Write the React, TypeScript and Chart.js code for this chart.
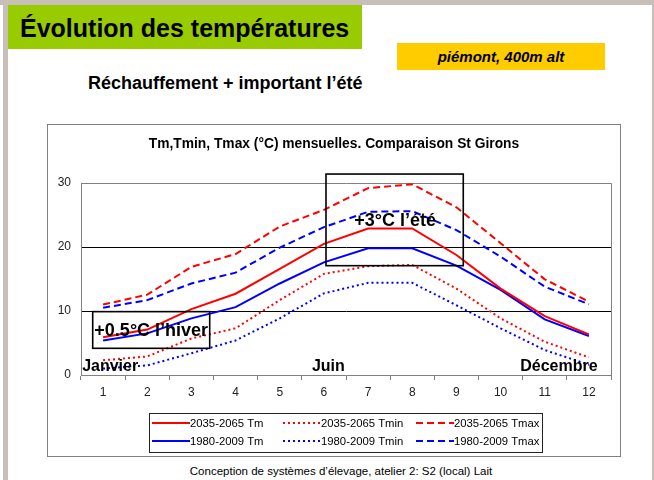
import React, { useEffect, useRef } from "react";
import { Chart, registerables } from "chart.js";

Chart.register(...registerables);

const months = ["1", "2", "3", "4", "5", "6", "7", "8", "9", "10", "11", "12"];
const yTicks = [0, 10, 20, 30];

const tm2035 = [5.9, 7.1, 10.3, 12.7, 16.6, 20.5, 22.9, 22.9, 18.75, 13.5, 9.2, 6.35];
const tmin2035 = [2.3, 2.9, 5.7, 7.3, 11.7, 15.8, 17.0, 17.2, 13.5, 8.85, 5.2, 2.75];
const tmax2035 = [11.0, 12.55, 16.9, 18.9, 23.2, 25.8, 29.2, 29.8, 26.2, 20.6, 14.95, 11.45];
const tm1980 = [5.4, 6.5, 8.85, 10.6, 14.3, 17.6, 19.8, 19.8, 17.1, 13.3, 8.7, 6.1];
const tmin1980 = [1.0, 1.5, 3.4, 5.4, 8.85, 12.75, 14.4, 14.4, 10.9, 7.3, 3.9, 1.6];
const tmax1980 = [10.5, 11.7, 14.3, 16.0, 19.9, 23.1, 25.5, 25.6, 22.65, 18.5, 13.8, 11.05];

const seriesLabels = [
  "2035-2065 Tm",
  "2035-2065 Tmin",
  "2035-2065 Tmax",
  "1980-2009 Tm",
  "1980-2009 Tmin",
  "1980-2009 Tmax",
];

const FONT = "'Liberation Sans', Arial, Helvetica, sans-serif";
const RED = "#ff0000";
const BLUE = "#0000ff";
const DOT = [2, 3];
const DASH = [7, 4];

export default function App() {
  const ref = useRef<HTMLCanvasElement>(null);

  useEffect(() => {
    const canvas = ref.current;
    if (!canvas) return;

    const framePlugin = {
      id: "framePlugin",
      beforeDraw(c: any) {
        const g = c.ctx;
        g.save();
        g.fillStyle = "#ffffff";
        g.fillRect(0, 0, c.width, c.height);
        g.restore();
      },
      beforeDatasetsDraw(c: any) {
        const g = c.ctx;
        const a = c.chartArea;
        g.save();
        g.strokeStyle = "#808080";
        g.lineWidth = 1;
        g.beginPath();
        g.moveTo(Math.round(a.left) + 0.5, Math.round(a.top) + 0.5);
        g.lineTo(Math.round(a.right) + 0.5, Math.round(a.top) + 0.5);
        g.lineTo(Math.round(a.right) + 0.5, Math.round(a.bottom) + 0.5);
        g.stroke();
        g.restore();
      },
      afterDraw(c: any) {
        const g = c.ctx;
        const W = c.width;
        const H = c.height;
        g.save();
        g.strokeStyle = "#808080";
        g.lineWidth = 1;
        g.strokeRect(0.5, 0.5, W - 1, H - 1);
        g.fillStyle = "#000";
        g.font = `bold 13.8px ${FONT}`;
        g.textAlign = "center";
        g.textBaseline = "middle";
        g.fillText("Tm,Tmin, Tmax (°C) mensuelles. Comparaison St Girons", 287, 20);

        const lx = 102.5, ly = 289.5, lw = 393, lh = 39;
        g.strokeStyle = "#222";
        g.strokeRect(lx, ly, lw, lh);
        const colX = [105, 236, 369];
        const rowY = [299, 317];
        const sampleLen = 38;
        c.data.datasets.forEach((ds: any, i: number) => {
          const col = i % 3;
          const row = Math.floor(i / 3);
          const x0 = colX[col];
          const y0 = rowY[row];
          g.save();
          g.strokeStyle = ds.borderColor;
          g.lineWidth = ds.borderWidth;
          g.setLineDash(ds.borderDash || []);
          g.beginPath();
          g.moveTo(x0, y0);
          g.lineTo(x0 + sampleLen, y0);
          g.stroke();
          g.restore();
          g.fillStyle = "#000";
          g.font = `11.3px ${FONT}`;
          g.textAlign = "left";
          g.textBaseline = "middle";
          g.fillText(ds.label, x0 + sampleLen, y0 + 0.5);
        });
        g.restore();
      },
      afterDatasetsDraw(c: any) {
        const g = c.ctx;
        const xs = c.scales.x;
        const ys = c.scales.y;
        const px = (v: number) => xs.getPixelForValue(v);
        const py = (v: number) => ys.getPixelForValue(v);
        g.save();
        g.strokeStyle = "#000";
        g.lineWidth = 1.6;
        const box = (x1: number, x2: number, y1: number, y2: number) => {
          const l = px(x1), r = px(x2), t = py(y2), b = py(y1);
          g.strokeRect(l, t, r - l, b - t);
        };
        box(-0.235, 2.414, 4.17, 9.9);
        box(5.047, 8.155, 17.08, 31.4);
        g.fillStyle = "#000";
        g.textAlign = "center";
        g.textBaseline = "middle";
        g.font = `bold 18px ${FONT}`;
        g.fillText("+0.5°C l’hiver", px(1.09), py(6.8));
        g.fillText("+3°C l’été", px(6.61), py(24.0));
        g.font = `bold 16px ${FONT}`;
        g.fillText("Janvier", px(0.16), py(1.25));
        g.fillText("Juin", px(5.1), py(1.25));
        g.fillText("Décembre", px(10.32), py(1.25));
        g.restore();
      },
    };

    const mk = (label: string, data: number[], color: string, dash: number[]) => ({
      label,
      data,
      borderColor: color,
      backgroundColor: color,
      borderWidth: 2,
      borderDash: dash,
      pointRadius: 0,
      pointHoverRadius: 0,
      tension: 0,
      fill: false,
    });

    const chart = new Chart(canvas, {
      type: "line",
      data: {
        labels: months,
        datasets: [
          mk(seriesLabels[0], tm2035, RED, []),
          mk(seriesLabels[1], tmin2035, RED, DOT),
          mk(seriesLabels[2], tmax2035, RED, DASH),
          mk(seriesLabels[3], tm1980, BLUE, []),
          mk(seriesLabels[4], tmin1980, BLUE, DOT),
          mk(seriesLabels[5], tmax1980, BLUE, DASH),
        ],
      },
      options: {
        responsive: false,
        animation: false,
        events: [],
        layout: { padding: { top: 59, left: 0, right: 10, bottom: 52 } },
        plugins: {
          legend: { display: false },
          title: { display: false },
          tooltip: { enabled: false },
        },
        scales: {
          x: {
            type: "category",
            offset: true,
            afterFit: (s: any) => {
              s.height = 30;
            },
            grid: {
              offset: true,
              drawOnChartArea: false,
              drawTicks: true,
              tickLength: 5,
              color: "#808080",
            },
            border: { display: true, color: "#808080", width: 1 },
            ticks: {
              padding: 5,
              color: "#222",
              font: { family: FONT, size: 12 },
              maxRotation: 0,
              autoSkip: false,
            },
          },
          y: {
            min: 0,
            max: 30,
            afterFit: (s: any) => {
              s.width = 34;
            },
            afterBuildTicks: (s: any) => {
              s.ticks = yTicks.map((v) => ({ value: v }));
            },
            grid: {
              drawTicks: false,
              color: (ctx: any) =>
                ctx.tick && (ctx.tick.value === 10 || ctx.tick.value === 20) ? "#000" : "rgba(0,0,0,0)",
            },
            border: { display: true, color: "#808080", width: 1 },
            ticks: {
              padding: 10,
              color: "#222",
              font: { family: FONT, size: 12 },
            },
          },
        },
      },
      plugins: [framePlugin],
    } as any);

    return () => {
      chart.destroy();
    };
  }, []);

  return (
    <div
      style={{
        position: "absolute",
        left: 0,
        top: 0,
        width: 654,
        height: 480,
        background: "#ffffff",
        overflow: "hidden",
        fontFamily: FONT,
      }}
    >
      <div style={{ position: "absolute", left: 0, top: 0, width: 654, height: 5, background: "#c8c0b8" }} />
      <div style={{ position: "absolute", left: 3, top: 0, width: 5, height: 480, background: "#c8c0b8" }} />
      <div style={{ position: "absolute", left: 652, top: 0, width: 2, height: 480, background: "#c8c0b8" }} />
      <div style={{ position: "absolute", left: 8, top: 5, width: 354, height: 44, background: "#99cc00" }} />
      <div
        style={{
          position: "absolute",
          left: 20,
          top: 6,
          height: 44,
          lineHeight: "44px",
          fontSize: 25,
          fontWeight: "bold",
          color: "#000",
          whiteSpace: "nowrap",
        }}
      >
        Évolution des températures
      </div>
      <div
        style={{
          position: "absolute",
          left: 397,
          top: 43,
          width: 208,
          height: 27,
          background: "#ffcc00",
          lineHeight: "27px",
          textAlign: "center",
          fontSize: 15,
          fontWeight: "bold",
          fontStyle: "italic",
          color: "#000",
          whiteSpace: "nowrap",
        }}
      >
        piémont, 400m alt
      </div>
      <div
        style={{
          position: "absolute",
          left: 88,
          top: 74,
          lineHeight: "18px",
          fontSize: 18,
          fontWeight: "bold",
          color: "#000",
          whiteSpace: "nowrap",
        }}
      >
        Réchauffement + important l’été
      </div>
      <canvas
        ref={ref}
        width={574}
        height={333}
        style={{ position: "absolute", left: 47, top: 124, width: 574, height: 333 }}
      />
      <div
        style={{
          position: "absolute",
          left: 141,
          top: 465,
          width: 400,
          lineHeight: "12px",
          fontSize: 11.5,
          textAlign: "center",
          color: "#000",
          whiteSpace: "nowrap",
        }}
      >
        Conception de systèmes d’élevage, atelier 2: S2 (local) Lait
      </div>
    </div>
  );
}
